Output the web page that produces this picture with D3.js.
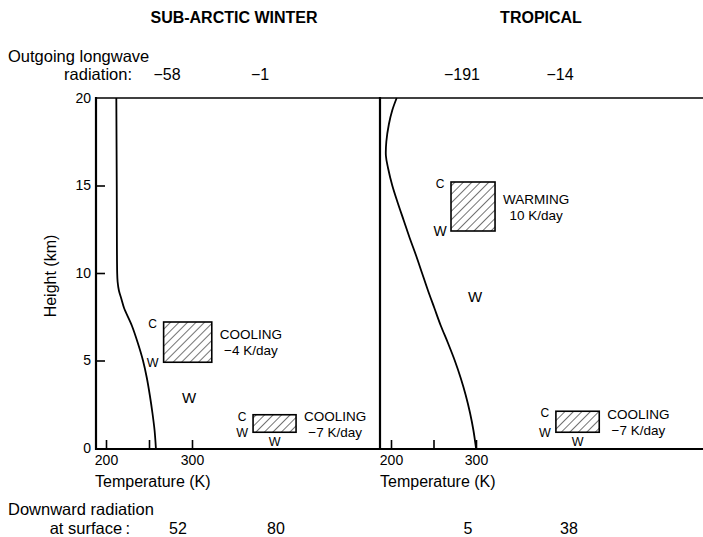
<!DOCTYPE html>
<html>
<head>
<meta charset="utf-8">
<script src="https://cdn.jsdelivr.net/npm/d3@7"></script>
<style>
  body { margin: 0; background: #fff; }
  svg { font-family: "Liberation Sans", Arial, Helvetica, sans-serif; }
</style>
</head>
<body>
<svg id="chart" width="703" height="537"></svg>
<script>
// --- data ---
const panelTitles = ["SUB-ARCTIC WINTER", "TROPICAL"];
const heightTicks = [0, 5, 10, 15, 20];
const tempTicks = [200, 250, 300];
const tempLabels = [200, 300];

// temperature profiles (height km -> temperature K)
const subarcticH = [0, 1, 2, 3, 4, 5, 6, 7, 8, 8.5, 9, 9.5, 10, 15, 20];
const subarcticT = [258, 256.5, 254, 251, 247.5, 243, 237, 230, 221, 218, 215, 213.5, 213, 212.5, 212];
const tropicalH = [0, 1, 2, 3, 4, 5, 6, 7, 8, 9, 10, 11, 12, 13, 14, 15, 16, 16.7, 17.5, 18.5, 19.3, 20];
const tropicalT = [300, 297, 293, 288, 282, 275, 267, 258.5, 251, 243.5, 236.5, 229.5, 222, 215, 208, 201.5, 196.5, 194, 194.5, 197.5, 201.5, 206.7];

// radiation changes (W/m2) for the two columns of each panel
const outgoing = [[-58, -1], [-191, -14]];
const downward = [[52, 80], [5, 38]];

// heating-rate boxes, in data units (T in K, height in km)
const boxPanel = [0, 0, 1, 1];
const boxT = [[267, 323], [371, 421], [270.6, 322.4], [394, 445]];
const boxH = [[4.9, 7.2], [0.9, 1.9], [12.4, 15.2], [0.9, 2.1]];
const boxKind = ["COOLING", "COOLING", "WARMING", "COOLING"];
const boxRate = ["\u22124 K/day", "\u22127 K/day", "10 K/day", "\u22127 K/day"];
const boxBottomW = [false, true, false, true];

// free-standing "W" marks
const freeW = [{panel: 0, t: 296.5, h: 2.9}, {panel: 1, t: 298.8, h: 8.7}];

// --- layout ---
const svg = d3.select("#chart");
const yTop = 98, yBot = 449;
const frameL = 96, frameMid = 380, frameR = 703;

const y = d3.scaleLinear().domain([0, 20]).range([448, yTop]);
const xs = [
  d3.scaleLinear().domain([200, 300]).range([106, 192]),
  d3.scaleLinear().domain([200, 300]).range([391, 476])
];

// hatch pattern
const defs = svg.append("defs");
const pat = defs.append("pattern")
  .attr("id", "hatch").attr("patternUnits", "userSpaceOnUse")
  .attr("width", 6).attr("height", 6)
  .attr("patternTransform", "rotate(45)");
pat.append("line").attr("x1", 0).attr("y1", 0).attr("x2", 0).attr("y2", 6)
  .attr("stroke", "#000").attr("stroke-width", 1.1);

// titles
const titleX = [234, 541];
svg.selectAll("text.title").data(panelTitles).join("text")
  .attr("class", "title")
  .attr("x", (d, i) => titleX[i]).attr("y", 23)
  .attr("text-anchor", "middle")
  .attr("font-size", 16).attr("font-weight", "bold")
  .text(d => d);

// radiation rows
const colX = [[167, 260], [462, 560]];
const colXb = [[178, 276], [468, 569]];
svg.append("text").attr("x", 8).attr("y", 62).attr("font-size", 16.5).text("Outgoing longwave");
svg.append("text").attr("x", 132).attr("y", 80).attr("text-anchor", "end")
  .attr("font-size", 16.5).text("radiation:");
svg.append("text").attr("x", 8).attr("y", 515).attr("font-size", 16.5).text("Downward radiation");
svg.append("text").attr("x", 130).attr("y", 534).attr("text-anchor", "end")
  .attr("font-size", 16.5).text("at surface\u2009:");

outgoing.forEach((vals, p) => {
  svg.selectAll(null).data(vals).join("text")
    .attr("x", (d, i) => colX[p][i]).attr("y", 80)
    .attr("text-anchor", "middle").attr("font-size", 16)
    .text(d => d < 0 ? "\u2212" + Math.abs(d) : d);
});
downward.forEach((vals, p) => {
  svg.selectAll(null).data(vals).join("text")
    .attr("x", (d, i) => colXb[p][i]).attr("y", 534)
    .attr("text-anchor", "middle").attr("font-size", 16)
    .text(d => d);
});

// frame
const frame = svg.append("g").attr("stroke", "#000").attr("fill", "none");
frame.append("line").attr("x1", frameL).attr("x2", frameR).attr("y1", yTop).attr("y2", yTop).attr("stroke-width", 1.6);
frame.append("line").attr("x1", frameL).attr("x2", frameR).attr("y1", yBot).attr("y2", yBot).attr("stroke-width", 1.8);
frame.append("line").attr("x1", frameL).attr("x2", frameL).attr("y1", yTop - 1).attr("y2", yBot + 1).attr("stroke-width", 2.2);
frame.append("line").attr("x1", frameMid).attr("x2", frameMid).attr("y1", yTop - 1).attr("y2", yBot + 1).attr("stroke-width", 2.2);

// y axis (left panel only)
const yAxis = svg.append("g")
  .attr("transform", `translate(${frameL},0)`)
  .call(d3.axisLeft(y).tickValues(heightTicks).tickSize(-9).tickPadding(5));
yAxis.select(".domain").remove();
yAxis.selectAll(".tick line").attr("stroke-width", 1.6)
  .filter(d => d === 0 || d === 20).remove();
yAxis.selectAll(".tick text").attr("font-size", 14).attr("font-family", "Liberation Sans, Arial, sans-serif").attr("fill", "#000");

svg.append("text")
  .attr("transform", "translate(56,276) rotate(-90)")
  .attr("text-anchor", "middle").attr("font-size", 16)
  .text("Height (km)");

// per-panel content
const profiles = [
  subarcticH.map((h, i) => ({h, t: subarcticT[i]})),
  tropicalH.map((h, i) => ({h, t: tropicalT[i]}))
];

xs.forEach((x, p) => {
  const xAxis = svg.append("g")
    .attr("transform", `translate(0,${yBot})`)
    .call(d3.axisBottom(x).tickValues(tempTicks).tickSize(-9).tickPadding(6)
      .tickFormat(d => tempLabels.includes(d) ? d : ""));
  xAxis.select(".domain").remove();
  xAxis.selectAll(".tick line").attr("stroke-width", 1.6);
  xAxis.selectAll(".tick text").attr("font-size", 14).attr("font-family", "Liberation Sans, Arial, sans-serif").attr("fill", "#000");

  svg.append("text")
    .attr("x", x(200) - 11).attr("y", 487)
    .attr("font-size", 16).text("Temperature (K)");

  const line = d3.line()
    .x(d => x(d.t)).y(d => y(d.h))
    .curve(d3.curveCatmullRom.alpha(0.5));
  svg.append("path").datum(profiles[p])
    .attr("d", line)
    .attr("fill", "none").attr("stroke", "#000").attr("stroke-width", 1.8);
});

// boxes
boxT.forEach((tr, i) => {
  const x = xs[boxPanel[i]];
  const x0 = x(tr[0]), x1 = x(tr[1]);
  const y0 = y(boxH[i][1]), y1 = y(boxH[i][0]);
  const g = svg.append("g");
  g.append("rect")
    .attr("x", x0).attr("y", y0).attr("width", x1 - x0).attr("height", y1 - y0)
    .attr("fill", "url(#hatch)").attr("stroke", "#000").attr("stroke-width", 1.6);
  g.append("text").attr("x", x0 - 11).attr("y", y0 + 6)
    .attr("text-anchor", "middle").attr("font-size", 12).text("C");
  g.append("text").attr("x", x0 - 11).attr("y", y1 + 5)
    .attr("text-anchor", "middle").attr("font-size", boxPanel[i] === 1 && !boxBottomW[i] ? 14 : 12.5).text("W");
  if (boxBottomW[i]) {
    g.append("text").attr("x", (x0 + x1) / 2).attr("y", y1 + 14)
      .attr("text-anchor", "middle").attr("font-size", 12.5).text("W");
  }
  const cy = (y0 + y1) / 2;
  const kind = g.append("text").attr("x", x1 + 8).attr("y", cy - 3)
    .attr("font-size", 13.5).text(boxKind[i]);
  const kw = kind.node().getComputedTextLength();
  g.append("text").attr("x", x1 + 8 + kw / 2).attr("y", cy + 13)
    .attr("text-anchor", "middle").attr("font-size", 13.5).text(boxRate[i]);
});

svg.selectAll("text.freew").data(freeW).join("text")
  .attr("class", "freew")
  .attr("x", d => xs[d.panel](d.t)).attr("y", d => y(d.h) + 6)
  .attr("text-anchor", "middle").attr("font-size", 15).text("W");
</script>
</body>
</html>
